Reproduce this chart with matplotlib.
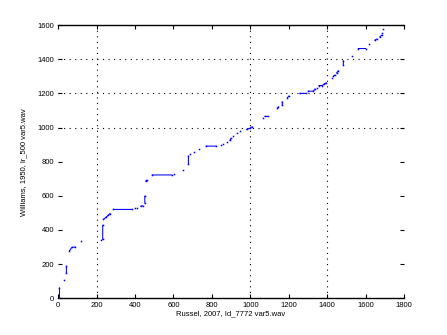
import numpy as np
import matplotlib
matplotlib.use("Agg")
import matplotlib.pyplot as plt

# alignment path, nan = break between pieces
path_x = [7, 7, np.nan, 33, np.nan, 43, 43, np.nan, 59, 71, 88, np.nan, 121, np.nan,
          222, np.nan, 232, 232, np.nan, 236, 250, 262, 270, np.nan, 288, 383, np.nan,
          400, np.nan, 412, np.nan, 430, 440, np.nan, 451, 451, np.nan, 456, 461, np.nan,
          490, 591, np.nan, 603, np.nan, 652, np.nan, 678, 678, np.nan, 686, np.nan,
          707, np.nan, 735, np.nan, 770, 822, np.nan, 846, np.nan, 860, np.nan, 877, np.nan,
          894, 900, np.nan, 912, np.nan, 932, np.nan, 946, np.nan, 981, 998, 1009, np.nan,
          1064, np.nan, 1076, 1090, np.nan, 1141, 1146, np.nan, 1166, 1166, np.nan,
          1193, 1200, np.nan, 1258, 1290, np.nan, 1302, 1328, 1336, np.nan, 1349, np.nan,
          1357, 1374, 1383, 1394, np.nan, 1423, np.nan, 1432, 1440, np.nan, 1449, 1458, np.nan,
          1484, 1484, np.nan, 1527, np.nan, 1562, 1600, np.nan, 1619, np.nan, 1648, 1657, np.nan,
          1674, 1683, np.nan, 1686, np.nan, 1692]
path_y = [0, 60, np.nan, 105, np.nan, 145, 187, np.nan, 277, 297, 300, np.nan, 334, np.nan,
          340, np.nan, 344, 427, np.nan, 461, 475, 487, 496, np.nan, 520, 520, np.nan,
          526, np.nan, 531, np.nan, 539, 541, np.nan, 558, 598, np.nan, 686, 691, np.nan,
          722, 722, np.nan, 727, np.nan, 750, np.nan, 789, 832, np.nan, 844, np.nan,
          857, np.nan, 875, np.nan, 891, 891, np.nan, 898, np.nan, 906, np.nan, 914, np.nan,
          926, 936, np.nan, 953, np.nan, 965, np.nan, 979, np.nan, 989, 996, 1004, np.nan,
          1057, np.nan, 1065, 1065, np.nan, 1112, 1121, np.nan, 1131, 1150, np.nan,
          1174, 1184, np.nan, 1200, 1200, np.nan, 1213, 1213, 1225, np.nan, 1233, np.nan,
          1246, 1246, 1254, 1262, np.nan, 1293, np.nan, 1301, 1307, np.nan, 1320, 1332, np.nan,
          1365, 1390, np.nan, 1418, np.nan, 1463, 1463, np.nan, 1492, np.nan, 1512, 1518, np.nan,
          1531, 1541, np.nan, 1551, np.nan, 1575]

x_ticks = [0, 200, 400, 600, 800, 1000, 1200, 1400, 1600, 1800]
y_ticks = [0, 200, 400, 600, 800, 1000, 1200, 1400, 1600]
x_grid = [200, 1000, 1400]
y_grid = [1000, 1200, 1400]

plt.rcParams['font.family'] = ['Liberation Sans', 'DejaVu Sans']

fig = plt.figure(figsize=(4.47, 3.35), dpi=100)
ax = fig.add_axes([0.13, 0.11, 0.774, 0.815])

for gx in x_grid:
    ax.axvline(gx, color='black', lw=0.8, ls=(0, (1, 4)), zorder=1)
for gy in y_grid:
    ax.axhline(gy, color='black', lw=0.8, ls=(0, (1, 4)), zorder=1)

ax.plot(path_x, path_y, color='blue', lw=0.75, marker='s', markersize=1.1,
        markeredgewidth=0, zorder=3)

ax.set_xlim(0, 1800)
ax.set_ylim(0, 1600)
ax.set_xticks(x_ticks)
ax.set_yticks(y_ticks)
ax.tick_params(direction='in', length=3, width=0.8, labelsize=5.5, pad=3,
               top=True, right=True)

ax.spines['left'].set_visible(False)
ax.spines['right'].set_visible(False)
ax.spines['top'].set_linewidth(1.0)
ax.spines['bottom'].set_linewidth(1.0)

ax.set_xlabel('Russel, 2007, Id_7772 var5.wav', fontsize=5.5, labelpad=1)
ax.set_ylabel('Williams, 1950, lr_500 var5.wav', fontsize=5.5, labelpad=7)

fig.savefig('out.png', dpi=100)
